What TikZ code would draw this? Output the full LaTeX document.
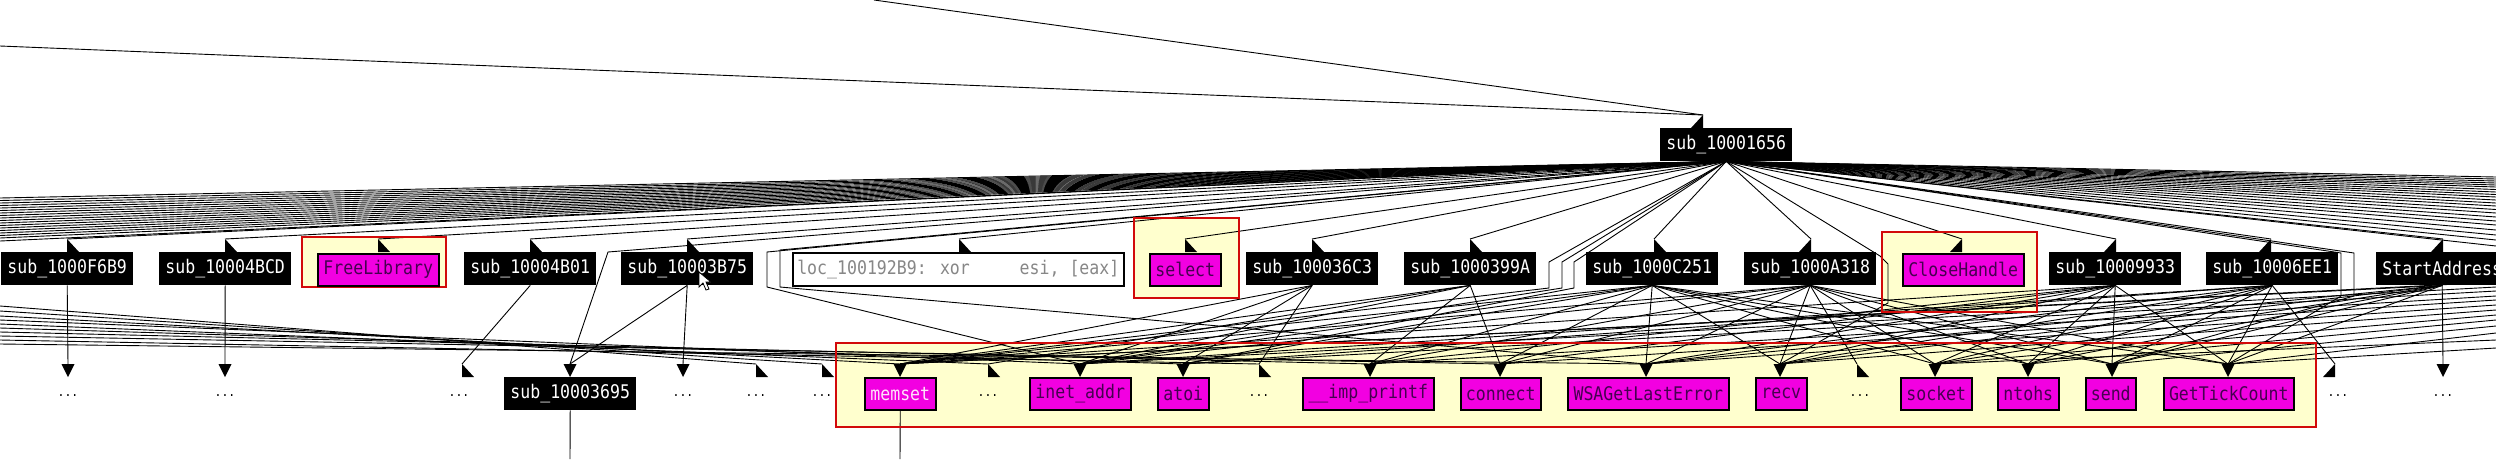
\documentclass[tikz,border=0pt]{standalone}
\usepackage{fontspec}
\newfontfamily\idafont[FakeStretch=0.88]{DejaVu Sans Mono}
\usetikzlibrary{calc}
\definecolor{libmag}{RGB}{242,0,225}
\definecolor{libtxt}{RGB}{70,0,80}
\definecolor{memtxt}{RGB}{255,225,250}
\definecolor{grpfill}{RGB}{255,255,206}
\definecolor{grpred}{RGB}{210,10,10}
\definecolor{loctxt}{RGB}{135,135,135}
\pgfdeclarelayer{grplayer}
\pgfdeclarelayer{edgelayer}
\pgfsetlayers{grplayer,edgelayer,main}
\newcommand\TipD[1]{\fill ($(#1)+(-6.5,0)$) -- ($(#1)+(6.5,0)$) -- ($(#1)+(0,13)$) -- cycle;}
\newcommand\TipL[1]{\fill (#1) -- ($(#1)+(0,13)$) -- ($(#1)+(12,13)$) -- cycle;}
\newcommand\TipR[1]{\fill (#1) -- ($(#1)+(0,13)$) -- ($(#1)+(-12,13)$) -- cycle;}
\begin{document}
\begin{tikzpicture}[x=1pt,y=-1pt,
  idatext/.style={font=\idafont\fontsize{18.8}{20}\selectfont},
  blk/.style={idatext,fill=black,text=white,minimum height=33pt,minimum width=132pt,inner sep=0pt,anchor=north west},
  lib/.style={idatext,fill=libmag,text=libtxt,draw=black,line width=1.5pt,minimum height=32pt,inner sep=0pt,anchor=north west},
  locbox/.style={idatext,fill=white,text=loctxt,draw=black,line width=1.6pt,minimum height=33pt,inner sep=0pt,anchor=north west},
  grp/.style={fill=grpfill,inner sep=0pt,anchor=north west},
  grpframe/.style={draw=grpred,line width=2pt},
  edge/.style={line width=0.9pt,black},
  dots/.style={font=\idafont\fontsize{13}{14}\selectfont,inner sep=0pt},
]
\useasboundingbox (0,0) rectangle (2496,459);
\clip (0,0) rectangle (2496,459);

% highlight groups (fill)
\begin{pgfonlayer}{grplayer}
\fill[white] (0,0) rectangle (2496,459);
\node[grp,minimum width=144pt,minimum height=50pt] (gFree) at (302,237) {};
\node[grp,minimum width=105pt,minimum height=80pt] (gSel) at (1134,218) {};
\node[grp,minimum width=155pt,minimum height=80pt] (gClose) at (1882,232) {};
\node[grp,minimum width=1480pt,minimum height=84pt] (gBig) at (836,343) {};
\end{pgfonlayer}

% nodes row 0
\node[blk] (n1656) at (1660,128) {sub\_10001656};

% nodes row 1
\node[blk] (nF6B9) at (1,252) {sub\_1000F6B9};
\node[blk] (n4BCD) at (159,252) {sub\_10004BCD};
\node[lib,minimum width=121pt] (nFree) at (317,253) {FreeLibrary};
\node[blk] (n4B01) at (464,252) {sub\_10004B01};
\node[blk] (n3B75) at (621,252) {sub\_10003B75};
\node[locbox,minimum width=331pt] (nLoc) at (792,252) {loc\_100192B9: xor\hphantom{00000}esi, [eax]};
\node[lib,minimum width=71pt] (nSel) at (1149,253) {select};
\node[blk] (n36C3) at (1246,252) {sub\_100036C3};
\node[blk] (n399A) at (1404,252) {sub\_1000399A};
\node[blk] (nC251) at (1586,252) {sub\_1000C251};
\node[blk] (nA318) at (1744,252) {sub\_1000A318};
\node[lib,minimum width=121pt] (nClose) at (1902,253) {CloseHandle};
\node[blk] (n9933) at (2049,252) {sub\_10009933};
\node[blk] (n6EE1) at (2206,252) {sub\_10006EE1};
\node[blk] (nStart) at (2376,252) {StartAddress};

% nodes row 2
\node[blk] (n3695) at (504,377) {sub\_10003695};
\node[lib,minimum width=71pt,text=memtxt] (nMem) at (864,377) {memset};
\node[lib,minimum width=101pt] (nInet) at (1029,377) {inet\_addr};
\node[lib,minimum width=51pt] (nAtoi) at (1157,377) {atoi};
\node[lib,minimum width=131pt] (nPrn) at (1302,377) {\_\_imp\_printf};
\node[lib,minimum width=80pt] (nCon) at (1460,377) {connect};
\node[lib,minimum width=161pt] (nWsa) at (1567,377) {WSAGetLastError};
\node[lib,minimum width=51pt] (nRecv) at (1755,377) {recv};
\node[lib,minimum width=71pt] (nSock) at (1900,377) {socket};
\node[lib,minimum width=61pt] (nNtohs) at (1997,377) {ntohs};
\node[lib,minimum width=50pt] (nSend) at (2085,377) {send};
\node[lib,minimum width=130pt] (nGtc) at (2163,377) {GetTickCount};
\foreach \n/\x in {d1/68,d2/225,d3/459,d4/683,d5/756,d6/822,d7/988,d8/1259,d9/1860,d10/2338,d11/2443}
  \node[dots] (\n) at (\x,396) {...};

% edge end coordinates, row 1
\foreach \n/\x in {F6B9/67,4BCD/225,Free/378,4B01/530,3B75/687,Loc/959,Sel/1185,36C3/1312,399A/1470,C251/1654,A318/1811,Close/1962,9933/2116,6EE1/2271,Start/2443}
  \coordinate (e\n) at (\x,239);
% edge end coordinates, row 2
\foreach \n/\x in {d1/68,d2/225,d3/462,3695/570,d4/683,d5/756,d6/822,Mem/900,d7/988,Inet/1080,Atoi/1183,d8/1259,Prn/1370,Con/1500,Wsa/1646,Recv/1780,d9/1857,Sock/1935,Ntohs/2028,Send/2112,Gtc/2228,d10/2335,d11/2443}
  \coordinate (e\n) at (\x,364);
\coordinate (T1) at (0,46);
\coordinate (T2) at (874,0);
\coordinate (e1656) at (1703,115);

\begin{pgfonlayer}{edgelayer}
% incoming edges at the top
\draw[edge] (T1) -- (e1656);
\draw[edge] (T2) -- (e1656);

% fan to off-picture nodes on the left
\foreach \y [count=\i] in {198,200.5,203,205.5,208,210.5,213,215.5,218,220.5,223,225.5,228,230.5,233,235.5,238,241}
  {\coordinate (FL\i) at (0,\y); \draw[edge] (n1656.south) -- (FL\i);}
% fan to off-picture nodes on the right
\foreach \y [count=\i] in {177,179,181,183,185,187,189.5,192,194.5,197,200,203,206,209.5,213,217,221,225,230,235,240,246}
  {\coordinate (FR\i) at (2496,\y); \draw[edge] (n1656.south) -- (FR\i);}
% fan to row 1
\foreach \t in {F6B9,4BCD,Free,4B01,3B75,Loc,Sel,36C3,399A,C251,A318,Close,9933,6EE1,Start}
  \draw[edge] (n1656.south) -- (e\t);

% bent edges from sub_10001656
\coordinate (b1) at (608,252);
\draw[edge] (n1656.south) -- (b1) -- (e3695);
\coordinate (b2a) at (767,252); \coordinate (b2b) at (767,287);
\draw[edge] (n1656.south) -- (b2a) -- (b2b) -- (eInet);
\coordinate (b3a) at (780,250); \coordinate (b3b) at (780,287);
\draw[edge] (n1656.south) -- (b3a) -- (b3b) -- (eWsa);
\foreach \x/\t [count=\i] in {1549/Mem,1562/Inet,1574/Atoi}
  {\coordinate (bc\i) at (\x,262); \coordinate (bd\i) at (\x,288);
   \draw[edge] (n1656.south) -- (bc\i) -- (bd\i) -- (e\t);}
\coordinate (b4a) at (1880,256); \coordinate (b4b) at (1888,264); \coordinate (b4c) at (1888,303);
\draw[edge] (n1656.south) -- (b4a) -- (b4b) -- (b4c) -- (eRecv);
\foreach \x/\t [count=\i] in {2341/Gtc,2354/Send}
  {\coordinate (be\i) at (\x,253); \coordinate (bf\i) at (\x,296);
   \draw[edge] (n1656.south) -- (be\i) -- (bf\i) -- (e\t);}

% row 1 -> row 2
\foreach \s/\t in {F6B9/d1,4BCD/d2,4B01/d3,3B75/d4,3B75/3695,
  36C3/Mem,36C3/Inet,36C3/Atoi,36C3/d8,
  399A/Mem,399A/Prn,399A/Inet,399A/Con,399A/d7,
  C251/Mem,C251/Inet,C251/Atoi,C251/Prn,C251/Con,C251/Wsa,C251/Recv,C251/Sock,C251/Ntohs,C251/Send,C251/Gtc,
  A318/Prn,A318/Con,A318/Wsa,A318/Recv,A318/d9,A318/Sock,A318/Ntohs,A318/Send,A318/Gtc,A318/Inet,A318/Mem,
  9933/Con,9933/Wsa,9933/Recv,9933/Sock,9933/Ntohs,9933/Send,9933/Gtc,9933/Mem,9933/Prn,
  6EE1/Wsa,6EE1/Recv,6EE1/Sock,6EE1/Ntohs,6EE1/Send,6EE1/Gtc,6EE1/d10,6EE1/Atoi,6EE1/Inet,
  Start/d11,Start/Gtc,Start/Send,Start/Ntohs,Start/Sock,Start/Recv,Start/Mem,Start/Wsa}
  \draw[edge] (n\s.south) -- (e\t);

% edges from off-picture nodes (left, right)
\foreach \y/\t [count=\i] in {306/d5,311/d6,316/Mem,320/Inet,324/d7,328/Atoi,332/Prn,336/Con,340/d8,344/Wsa}
  {\coordinate (LL\i) at (0,\y); \draw[edge] (LL\i) -- (e\t);}
\foreach \y/\t [count=\i] in {282/Mem,287/Inet,291/Atoi,296/Prn,300/Con,305/Wsa,310/Recv,315/Sock,320/Ntohs,326/Send,333/Gtc,340/Sock,348/Gtc}
  {\coordinate (LR\i) at (2496,\y); \draw[edge] (LR\i) -- (e\t);}

% edges leaving the picture at the bottom
\coordinate (B1) at (570,459);
\coordinate (B2) at (900,459);
\draw[edge] (n3695.south) -- (B1);
\draw[edge] (nMem.south) -- (B2);

% red frames of the highlight groups
\foreach \g in {gFree,gSel,gClose,gBig}
  \draw[grpframe] (\g.north west) rectangle (\g.south east);
\end{pgfonlayer}

% arrow heads
\TipR{e1656}
\foreach \c in {F6B9,4BCD,Free,4B01,3B75,Loc,Sel,36C3,399A,C251,d3,d5,d6,d7,d8,d9} {\TipL{e\c}}
\foreach \c in {A318,Close,9933,6EE1,Start,d10} {\TipR{e\c}}
\foreach \c in {d1,d2,3695,d4,Mem,Inet,Atoi,Prn,Con,Wsa,Recv,Sock,Ntohs,Send,Gtc,d11} {\TipD{e\c}}

% mouse pointer
\filldraw[fill=white,draw=black,line width=0.8pt] (699,272) -- (699,287) -- (703,283) -- (706,290) -- (709,289) -- (706,282) -- (711,282) -- cycle;
\end{tikzpicture}
\end{document}
